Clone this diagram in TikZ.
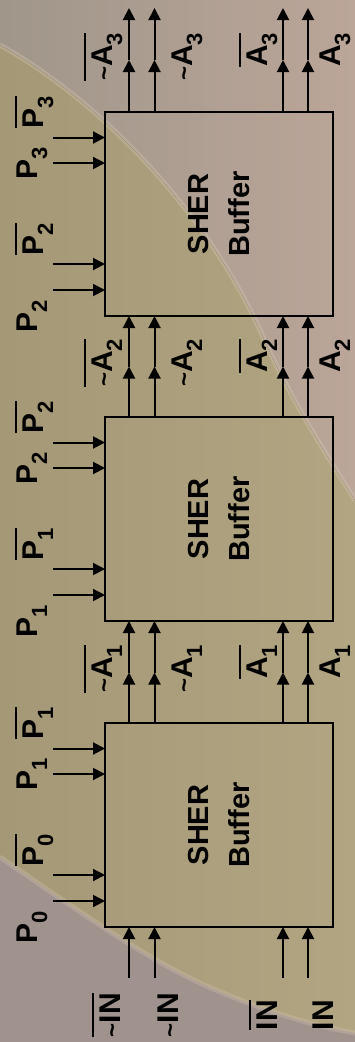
\documentclass[tikz,border=0pt]{standalone}
\usepackage{fontspec}
\setmainfont{Liberation Sans}
\usetikzlibrary{arrows.meta,calc}

\definecolor{khakiL}{RGB}{165,152,119}
\definecolor{khakiR}{RGB}{178,165,130}
\definecolor{pinkL}{RGB}{160,150,138}
\definecolor{pinkR}{RGB}{187,166,153}
\definecolor{mauve}{RGB}{160,146,141}
\definecolor{hilite}{RGB}{215,200,180}

\newcommand\sbs[1]{\raisebox{-0.34em}{\fontsize{22}{22}\selectfont #1}}
\newcommand\ovl[1]{\vbox{\hrule height 2pt\kern 5pt\hbox{#1}}}
\newcommand\tld{{\fontsize{24}{24}\selectfont\char126}}

\tikzset{
  lbl/.style={font=\fontsize{30}{30}\selectfont\bfseries, rotate=90, inner sep=0pt, outer sep=0pt, anchor=base},
  lble/.style={lbl, anchor=base east},
  box/.style={draw, line width=2pt, minimum width=228pt, minimum height=204pt, inner sep=0pt, outer sep=0pt},
  boxtext/.style={font=\fontsize{29}{41}\selectfont\bfseries, rotate=90, align=center, inner sep=0pt},
  arr/.style={line width=2pt, -{Triangle[length=12pt,width=12pt]}}
}

\begin{document}
\begin{tikzpicture}[x=1pt,y=-1pt]
\useasboundingbox (0,0) rectangle (355,1042);
% background
\fill[left color=khakiL, right color=khakiR] (0,0) rectangle (355,1042);
\fill[left color=pinkL, right color=pinkR] (0,0) -- (0,45) .. controls (90,95) and (200,200) .. (260,330) .. controls (290,400) and (330,460) .. (355,500) -- (355,0) -- cycle;
\draw[hilite, opacity=0.35, line width=5pt] (0,45) .. controls (90,95) and (200,200) .. (260,330) .. controls (290,400) and (330,460) .. (355,500);
\fill[mauve] (0,857) .. controls (70,905) and (140,955) .. (200,983) .. controls (260,1010) and (310,1025) .. (355,1033) -- (355,1042) -- (0,1042) -- cycle;
\draw[hilite, opacity=0.3, line width=5pt] (0,857) .. controls (70,905) and (140,955) .. (200,983) .. controls (260,1010) and (310,1025) .. (355,1033);

% boxes
\node[box] (b1) at (219,825) {};
\node[box] (b2) at (219,519) {};
\node[box] (b3) at (219,214) {};
\node[boxtext] (t1) at (b1.center) {SHER\\Buffer};
\node[boxtext] (t2) at (b2.center) {SHER\\Buffer};
\node[boxtext] (t3) at (b3.center) {SHER\\Buffer};

% vertical signal lines
\foreach \x [count=\i] in {129,154.5,283,308} {
  \coordinate (in\i) at (\x,978);
  \coordinate (ga\i) at (\x,672.5);
  \coordinate (gb\i) at (\x,366.5);
  \coordinate (gc\i) at (\x,60);
  \coordinate (out\i) at (\x,8);
  \draw[arr] (in\i) -- (in\i |- b1.south);
  \draw[arr] (b1.north -| ga\i) -- (ga\i);
  \draw[arr] (ga\i) -- (ga\i |- b2.south);
  \draw[arr] (b2.north -| gb\i) -- (gb\i);
  \draw[arr] (gb\i) -- (gb\i |- b3.south);
  \draw[arr] (b3.north -| gc\i) -- (gc\i);
  \draw[arr] (gc\i) -- (out\i);
}

% P input arrows
\foreach \b/\y [count=\i] in {b1/748.5,b1/774,b1/875,b1/901,b2/442.5,b2/468,b2/569,b2/595,b3/137.5,b3/163,b3/264,b3/290} {
  \coordinate (ps\i) at (53,\y);
  \draw[arr] (ps\i) -- (ps\i -| \b.west);
}

% P labels
\node[lbl] (lp0) at (37,927) {P\sbs{0}};
\node[lbl] (lp0b) at (43,850) {\ovl{P\sbs{0}}};
\node[lbl] (lp1) at (37,774) {P\sbs{1}};
\node[lbl] (lp1b) at (43,723) {\ovl{P\sbs{1}}};
\node[lbl] (lq1) at (37,621) {P\sbs{1}};
\node[lbl] (lq1b) at (43,544) {\ovl{P\sbs{1}}};
\node[lbl] (lq2) at (37,468) {P\sbs{2}};
\node[lbl] (lq2b) at (43,417) {\ovl{P\sbs{2}}};
\node[lbl] (lr2) at (37,316) {P\sbs{2}};
\node[lbl] (lr2b) at (43,239) {\ovl{P\sbs{2}}};
\node[lbl] (lr3) at (37,163) {P\sbs{3}};
\node[lbl] (lr3b) at (43,112) {\ovl{P\sbs{3}}};

% IN labels
\node[lbl] (lin1) at (120,1015) {\ovl{\tld IN}};
\node[lbl] (lin2) at (178,1015) {\tld IN};
\node[lbl] (lin3) at (277,1015) {\ovl{IN}};
\node[lbl] (lin4) at (333,1015) {IN};

% A labels
\foreach \y/\n in {645/1,339/2,33/3} {
  \node[lble] (la\n a) at (112,\y) {\ovl{\tld A\sbs{\n}}};
  \node[lble] (la\n b) at (192,\y) {\tld A\sbs{\n}};
  \node[lble] (la\n c) at (267,\y) {\ovl{A\sbs{\n}}};
  \node[lble] (la\n d) at (340,\y) {A\sbs{\n}};
}
\end{tikzpicture}
\end{document}
